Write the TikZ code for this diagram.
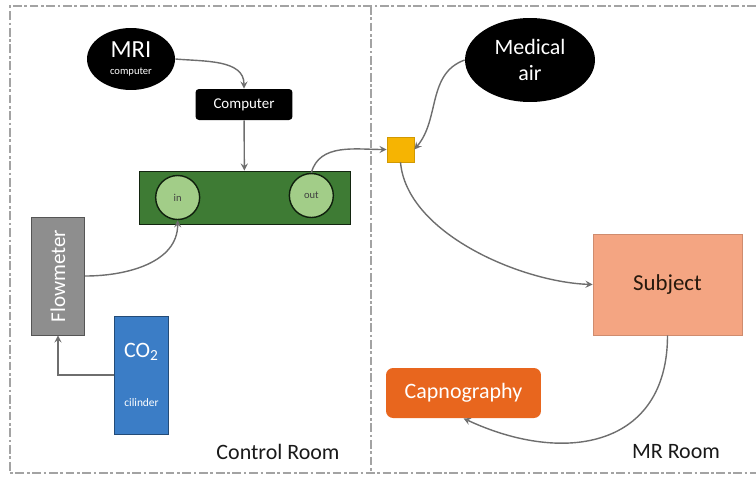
\documentclass[tikz,border=0pt]{standalone}
\usepackage{fontspec}
\setmainfont{Carlito}
\usepackage{xcolor}
\usetikzlibrary{positioning, arrows}
\usetikzlibrary{shapes.geometric}
\definecolor{mArrow}{HTML}{6E6E6E}
\definecolor{mBorder}{HTML}{A3A3A3}
\definecolor{mPanelGreen}{HTML}{3E7B34}
\definecolor{mPortGreen}{HTML}{A2CD88}
\definecolor{mFlowGrey}{HTML}{8E8E8E}
\definecolor{mCylBlue}{HTML}{3B7DC6}
\definecolor{mJunction}{HTML}{F6B402}
\definecolor{mSubject}{HTML}{F4A582}
\definecolor{mCapno}{HTML}{E8661E}
\tikzset{
  font=\small,
  conn/.style={->, >=stealth, draw=mArrow, line width=0.8pt},
  room/.style={dash pattern=on 5pt off 1.5pt on 1.5pt off 1.5pt, draw=mBorder, line width=0.7pt},
  blackell/.style={ellipse, fill=black, text=white, align=center, inner sep=0pt},
  port/.style={circle, fill=mPortGreen, draw=black!75!mPanelGreen, line width=0.8pt, minimum size=0.88cm, inner sep=0pt, text=black!75, font=\fontsize{6}{7}\selectfont}
}

\begin{document}
\begin{tikzpicture}[
        x=0.02cm, y=-0.02cm,
        compn/.style={rectangle, rounded corners=2pt, fill=black, text=white, minimum width=1.94cm, minimum height=0.62cm, font=\fontsize{8.5}{10}\selectfont},
        tallbox/.style={rectangle, minimum width=1.07cm, minimum height=2.36cm, text=white, align=center},
        roomlabel/.style={font=\fontsize{12.5}{14}\selectfont, text=black!90}
        ]
        \useasboundingbox (0,0) rectangle (756,477);
        % the two rooms
        \draw[room] (756,6) -- (10,6) -- (10,473) -- (756,473);
        \draw[room] (371,6) -- (371,473);

        % control room
        \node[blackell, minimum width=1.76cm, minimum height=1.24cm] (mricomp) at (131,59)
          {{\fontsize{14}{14}\selectfont MRI}\\[-1pt]{\fontsize{6}{7}\selectfont computer}};
        \node[compn] (computer) at (244,104.5) {Computer};
        \node[rectangle, fill=mPanelGreen, draw=black!70!mPanelGreen, minimum width=4.22cm, minimum height=1.06cm] (panel) at (244.5,197.5) {};
        \node[port] (inport) at ([xshift=0.78cm]panel.west) {in};
        \node[port] (outport) at ([xshift=-0.78cm, yshift=0.04cm]panel.east) {out};
        \node[tallbox, fill=mFlowGrey, draw=black!40!mFlowGrey] (flowmeter) at (58,276)
          {\rotatebox{90}{\fontsize{12}{14}\selectfont Flowmeter}};
        \node[tallbox, fill=mCylBlue, draw=black!40!mCylBlue] (cylinder) at (141.5,375)
          {{\fontsize{12.5}{14}\selectfont CO\textsubscript{2}}\\[17pt]{\fontsize{6.5}{8}\selectfont cilinder}};
        \node[roomlabel] (ctrlroom) at (278,452) {Control Room};

        % MR room
        \node[rectangle, fill=mJunction, draw=black!15!mJunction, minimum width=0.54cm, minimum height=0.5cm] (junction) at (400.5,149.5) {};
        \node[blackell, minimum width=2.6cm, minimum height=1.68cm, font=\fontsize{12.5}{15}\selectfont] (medair) at (530,60) {Medical\\air};
        \node[rectangle, fill=mSubject, draw=black!15!mSubject, minimum width=2.98cm, minimum height=2.02cm, text=black!80!brown, font=\fontsize{13}{15}\selectfont] (subject) at (667.5,284.5) {Subject};
        \node[rectangle, rounded corners=4pt, fill=mCapno, minimum width=3.1cm, minimum height=1cm, text=white, font=\fontsize{12.5}{15}\selectfont] (capno) at (463.5,393) {Capnography};
        \node[roomlabel] (mrroom) at (676,452) {MR Room};

        \draw[conn] (mricomp.east) to[out=-5, in=90] (computer.north);
        \draw[conn] (computer) -- (panel);
        \draw[conn] (flowmeter.east) to[out=0, in=-90] (inport.south);
        \draw[conn] (cylinder.west) -| (flowmeter.south);
        \draw[conn] (outport.north) to[out=75, in=180] (junction.west);
        \draw[conn] (medair.west) to[out=200, in=50] (junction.east);
        \draw[conn] (junction.south) to[out=-85, in=178, looseness=0.8] (subject.west);
        \draw[conn] (subject.south) to[out=-90, in=-25, looseness=1.3] (capno.south);
      \end{tikzpicture}
\end{document}
